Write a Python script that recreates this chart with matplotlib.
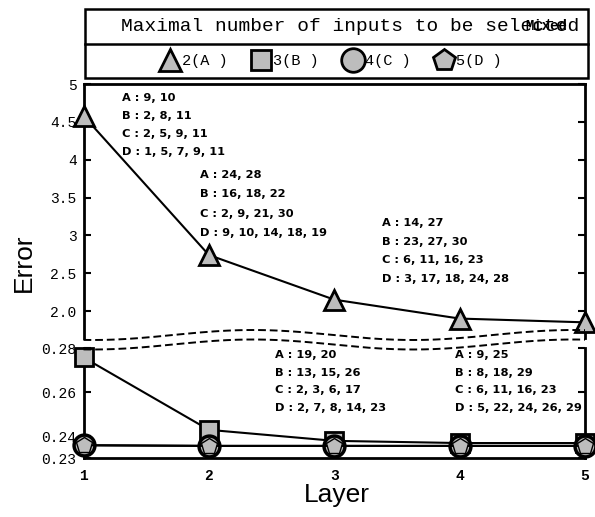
import matplotlib
matplotlib.use("Agg")
import matplotlib.pyplot as plt
import numpy as np
from matplotlib.lines import Line2D
from matplotlib.patches import Rectangle

# ---------------- data ----------------
layers = [1, 2, 3, 4, 5]
err_A = [4.58, 2.74, 2.15, 1.90, 1.85]          # max 2 inputs (A)
err_B = [0.2757, 0.2428, 0.2378, 0.2368, 0.2368]  # max 3 inputs (B)
err_C = [0.2358, 0.2355, 0.2355, 0.2355, 0.2355]  # max 4 inputs (C)
err_D = [0.2358, 0.2355, 0.2355, 0.2355, 0.2355]  # max 5 inputs (D)

upper_ticks = [2.0, 2.5, 3.0, 3.5, 4.0, 4.5, 5.0]
upper_ticklabels = ["2.0", "2.5", "3", "3.5", "4", "4.5", "5"]
lower_ticks = [0.23, 0.24, 0.26, 0.28]
lower_ticklabels = ["0.23", "0.24", "0.26", "0.28"]

legend_title = "Maximal number of inputs to be selected"
legend_overlay = "Mixed"
series_labels = ["2(A )", "3(B )", "4(C )", "5(D )"]

sel_layer1 = ["A : 9, 10", "B : 2, 8, 11", "C : 2, 5, 9, 11", "D : 1, 5, 7, 9, 11"]
sel_layer2 = ["A : 24, 28", "B : 16, 18, 22", "C : 2, 9, 21, 30", "D : 9, 10, 14, 18, 19"]
sel_layer3 = ["A : 14, 27", "B : 23, 27, 30", "C : 6, 11, 16, 23", "D : 3, 17, 18, 24, 28"]
sel_layer4 = ["A : 19, 20", "B : 13, 15, 26", "C : 2, 3, 6, 17", "D : 2, 7, 8, 14, 23"]
sel_layer5 = ["A : 9, 25", "B : 8, 18, 29", "C : 6, 11, 16, 23", "D : 5, 22, 24, 26, 29"]

# ---------------- figure ----------------
W, H = 595, 517
fig = plt.figure(figsize=(W / 100, H / 100), dpi=100)

def fx(px):
    return px / W

def fy(py):
    return 1 - py / H

x_left, x_right = 83.5, 585
up_top, up_bot = 84, 338
lo_top, lo_bot = 348, 458

ax_up = fig.add_axes([fx(x_left), fy(up_bot), fx(x_right) - fx(x_left), (up_bot - up_top) / H])
ax_lo = fig.add_axes([fx(x_left), fy(lo_bot), fx(x_right) - fx(x_left), (lo_bot - lo_top) / H])

gray = "#bdbdbd"
mono = "Liberation Mono"

ax_up.plot(layers, err_A, color="black", lw=1.5, marker="^", ms=14, mfc=gray,
           mec="black", mew=2.0, clip_on=False, zorder=5)
ax_lo.plot(layers, err_B, color="black", lw=1.5, marker="s", ms=13, mfc=gray,
           mec="black", mew=2.0, clip_on=False, zorder=4)
ax_lo.plot(layers, err_C, color="black", lw=1.5, marker="o", ms=15, mfc=gray,
           mec="black", mew=2.5, clip_on=False, zorder=5)
ax_lo.plot(layers, err_D, color="black", lw=1.5, marker="p", ms=12, mfc=gray,
           mec="black", mew=1.0, clip_on=False, zorder=6)

# upper axes
ax_up.set_xlim(1, 5)
ax_up.set_ylim(2.0 - (up_bot - 311) / 75.67, 5.0)
ax_up.set_yticks(upper_ticks)
ax_up.set_yticklabels(upper_ticklabels, fontfamily=mono, fontsize=10.5)
ax_up.set_xticks([])
ax_up.spines["bottom"].set_visible(False)
ax_up.tick_params(axis="y", direction="in", left=True, right=True, length=5, width=1.5, pad=5)

# lower axes
ax_lo.set_xlim(1, 5)
ax_lo.set_ylim(0.23, 0.28)
ax_lo.set_yticks(lower_ticks)
ax_lo.set_yticklabels(lower_ticklabels, fontfamily=mono, fontsize=10.5)
ax_lo.set_xticks(layers)
ax_lo.set_xticklabels([str(v) for v in layers], fontfamily=mono, fontsize=10.5, fontweight="bold")
ax_lo.spines["top"].set_visible(False)
ax_lo.tick_params(axis="y", direction="in", left=True, right=True, length=5, width=1.5, pad=5)
ax_lo.tick_params(axis="x", direction="in", length=3, width=1, pad=8)

for ax in (ax_up, ax_lo):
    for s in ax.spines.values():
        s.set_linewidth(2.0)
    ax.patch.set_alpha(0)

# wavy break lines
xs = np.linspace(x_left, x_right, 200)
y1 = 335 - 5 * np.cos(2 * np.pi * (xs - 253) / 320)
y2 = y1 + 9.5
for yy in (y1, y2):
    fig.add_artist(Line2D(fx(xs), fy(yy), transform=fig.transFigure, color="black",
                          lw=1.4, ls=(0, (4, 2))))

# annotations
def block(lines, x, y0, dy):
    for i, t in enumerate(lines):
        fig.text(fx(x), fy(y0 + i * dy), t, fontsize=8.2, fontweight="bold",
                 family="DejaVu Sans", va="center", ha="left")

block(sel_layer1, 122, 98, 18.0)
block(sel_layer2, 200, 175, 19.3)
block(sel_layer3, 382, 223, 18.7)
block(sel_layer4, 275, 355, 17.7)
block(sel_layer5, 455, 355, 17.7)

# axis labels
fig.text(fx(24), fy(263), "Error", rotation=90, fontsize=19, family="Liberation Sans",
         ha="center", va="center")
fig.text(fx(337), fy(495), "Layer", fontsize=19, family="Liberation Sans",
         ha="center", va="center")

# legend box
bx0, bx1, by0, bdiv, by1 = 85, 588, 9, 44, 78
fig.add_artist(Rectangle((fx(bx0), fy(by1)), fx(bx1) - fx(bx0), (by1 - by0) / H,
                         transform=fig.transFigure, fill=False, ec="black", lw=1.8))
fig.add_artist(Line2D([fx(bx0), fx(bx1)], [fy(bdiv), fy(bdiv)], transform=fig.transFigure,
                      color="black", lw=1.8))
fig.text(fx(350), fy(26.5), legend_title, family=mono, fontsize=14, ha="center", va="center")
fig.text(fx(546), fy(26.5), legend_overlay, family=mono, fontsize=10, fontweight="bold",
         ha="center", va="center")

handles = [
    Line2D([], [], ls="None", marker="^", ms=16, mfc=gray, mec="black", mew=2.0),
    Line2D([], [], ls="None", marker="s", ms=15, mfc=gray, mec="black", mew=2.0),
    Line2D([], [], ls="None", marker="o", ms=17, mfc=gray, mec="black", mew=2.0),
    Line2D([], [], ls="None", marker="p", ms=16, mfc=gray, mec="black", mew=2.0),
]
fig.legend(handles, series_labels, loc="center", bbox_to_anchor=(fx(332), fy(61)),
           ncol=4, frameon=False, handlelength=1.0, handletextpad=0.3, columnspacing=1.7,
           prop={"family": mono, "size": 11})

fig.savefig("out.png", dpi=100)
